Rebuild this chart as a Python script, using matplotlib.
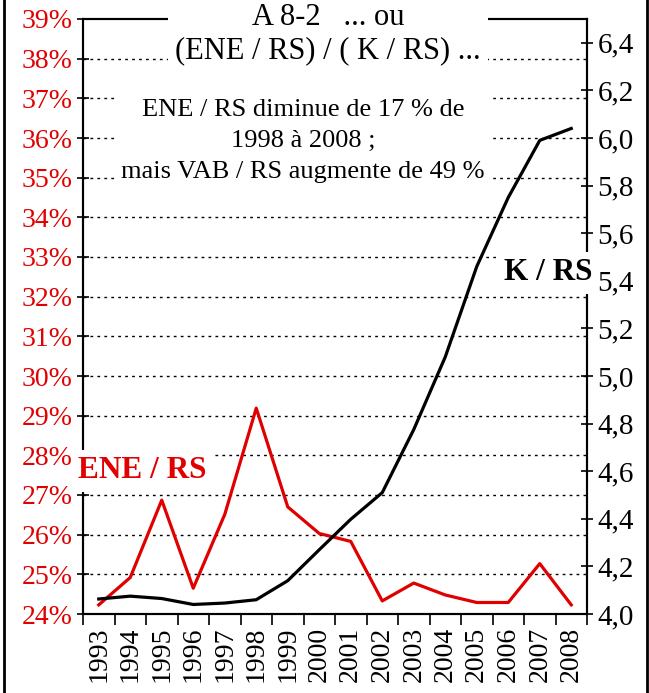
import numpy as np
import matplotlib
matplotlib.use('Agg')
import matplotlib.pyplot as plt
from matplotlib.lines import Line2D

plt.rcParams['font.family'] = ['Liberation Serif', 'DejaVu Serif']

years = ['1993', '1994', '1995', '1996', '1997', '1998', '1999', '2000',
         '2001', '2002', '2003', '2004', '2005', '2006', '2007', '2008']
ene_rs = [24.23, 24.92, 26.87, 24.65, 26.51, 29.19, 26.70, 26.03,
          25.83, 24.33, 24.78, 24.48, 24.29, 24.29, 25.27, 24.23]
k_rs = [4.063, 4.075, 4.065, 4.040, 4.046, 4.060, 4.140, 4.270,
        4.398, 4.510, 4.775, 5.080, 5.460, 5.750, 5.990, 6.040]

pct_ticks = list(range(24, 40))
k_ticks = [4.0, 4.2, 4.4, 4.6, 4.8, 5.0, 5.2, 5.4, 5.6, 5.8, 6.0, 6.2, 6.4]

W, H = 649, 693
fig = plt.figure(figsize=(W / 100, H / 100), dpi=100)
ax = fig.add_axes([83 / W, 1 - 614 / H, 504 / W, 595 / H])
ax2 = ax.twinx()

x = np.arange(len(years))

# left axis: ENE / RS in %
ax.plot(x, ene_rs, color='#e00000', lw=2.3, zorder=3)
ax.set_ylim(24, 39)
ax.set_yticks(pct_ticks)
ax.set_yticklabels([f'{v}%' for v in pct_ticks], color='#e00000', fontsize=20)
ax.tick_params(axis='y', direction='inout', length=9, width=1.2, pad=3)
for v in pct_ticks[1:-1]:
    ax.axhline(v, color='black', lw=1, ls=(0, (2, 3)), zorder=1)

# right axis: K / RS
ax2.plot(x, k_rs, color='black', lw=2.3, zorder=3)
ax2.set_ylim(4.0, 6.5)
ax2.set_yticks(k_ticks)
ax2.set_yticklabels([f'{v:.1f}'.replace('.', ',') for v in k_ticks], fontsize=21)
ax2.tick_params(axis='y', direction='inout', length=9, width=1.2, pad=3)

ax.set_xlim(-0.5, len(years) - 0.5)
ax.set_xticks(np.arange(len(years) + 1) - 0.5)
ax.set_xticklabels([])
ax.tick_params(axis='x', which='major', direction='out', length=8, width=1.2)
ax.set_xticks(x, minor=True)
ax.set_xticklabels(years, minor=True, rotation=90, fontsize=20)
ax.tick_params(axis='x', which='minor', length=0, pad=9)

for a in (ax, ax2):
    for s in a.spines.values():
        s.set_linewidth(1.5)

fig.text(328 / W, 1 - 34 / H, 'A 8-2   ... ou\n(ENE / RS) / ( K / RS) ...',
         ha='center', va='center', fontsize=22, linespacing=1.2,
         bbox=dict(facecolor='white', edgecolor='none', pad=5))
fig.text(303 / W, 1 - 141 / H,
         'ENE / RS diminue de 17 % de\n1998 à 2008 ;\nmais VAB / RS augmente de 49 %',
         ha='center', va='center', fontsize=19, linespacing=1.55,
         bbox=dict(facecolor='white', edgecolor='none', pad=4))
fig.text(142 / W, 1 - 471 / H, 'ENE / RS', ha='center', va='center',
         fontsize=22.5, fontweight='bold', color='#e00000',
         bbox=dict(facecolor='white', edgecolor='none', pad=5))
fig.text(548 / W, 1 - 273 / H, 'K / RS', ha='center', va='center',
         fontsize=22.5, fontweight='bold', color='black',
         bbox=dict(facecolor='white', edgecolor='none', pad=5))

# outer frame (left and right edges)
fig.add_artist(Line2D([3.5 / W, 3.5 / W], [0, 1], color='black', lw=2))
fig.add_artist(Line2D([647 / W, 647 / W], [0, 1], color='black', lw=2))

fig.savefig('out.png', dpi=100)
